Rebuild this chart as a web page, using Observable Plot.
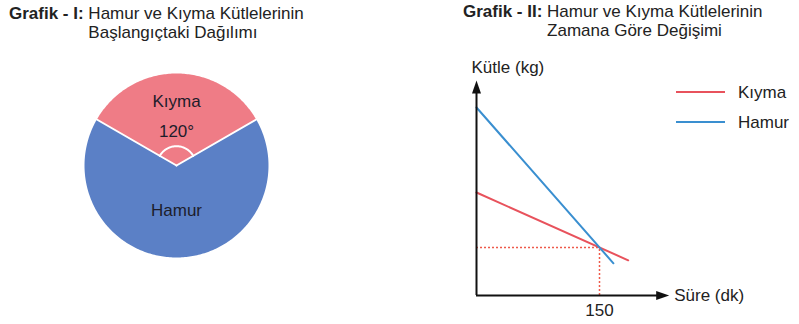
<!DOCTYPE html>
<html>
<head>
<meta charset="utf-8">
<script src="https://cdn.jsdelivr.net/npm/d3@7"></script>
<script src="https://cdn.jsdelivr.net/npm/@observablehq/plot@0.6"></script>
<style>
  body { margin: 0; background: #fff; }
  #page { position: relative; width: 799px; height: 324px; overflow: hidden;
          font-family: "Liberation Sans", Arial, Helvetica, sans-serif; font-size: 17px; color: #222; }
  .title { position: absolute; line-height: 19px; white-space: nowrap; }
  .title b { vertical-align: top; }
  .title span { display: inline-block; vertical-align: top; }
  .abs { position: absolute; }
  .swatch { position: absolute; width: 49px; height: 2px; }
  .legtext { position: absolute; line-height: 19px; }
</style>
</head>
<body>
<div id="page">
  <div class="title" style="left:9px;top:3.5px"><b>Grafik - I:</b> <span>Hamur ve Kıyma Kütlelerinin<br>Başlangıçtaki Dağılımı</span></div>
  <div class="title" style="left:463px;top:2px"><b>Grafik - II:</b> <span>Hamur ve Kıyma Kütlelerinin<br>Zamana Göre Değişimi</span></div>
  <div id="pie" class="abs" style="left:76px;top:65px"></div>
  <div id="lines" class="abs" style="left:440px;top:40px"></div>
  <div id="legend"></div>
</div>
<script>
// Grafik I: starting split of the two masses, in degrees of the circle
const pieNames = ["Kıyma", "Hamur"];
const pieDegrees = [120, 240];
const pieColors = ["#ef7c86", "#5b80c6"];

// Grafik II: mass (kg) against time (dk) for each ingredient
const kiymaTime = [0, 185];
const kiymaMass = [5.15, 1.76];
const hamurTime = [0, 167];
const hamurMass = [9.4, 1.61];
const lineNames = ["Kıyma", "Hamur"];
const lineColors = ["#e8525c", "#3a8fd0"];

// point where both masses become equal
const crossTime = 150;
const crossMass = 2.4;
const xTicks = [150];

const xLabel = "Süre (dk)";
const yLabel = "Kütle (kg)";

const font = '"Liberation Sans", Arial, Helvetica, sans-serif';
const ink = "#1d1d2b";

// ---------- pie ----------
const arcs = d3.pie().sort(null).startAngle(-Math.PI / 3).endAngle(2 * Math.PI - Math.PI / 3)(pieDegrees);
const polar = (a, r) => ({x: r * Math.sin(a), y: r * Math.cos(a)});
const sweep = (a0, a1, r, steps) => d3.range(steps + 1).map(i => polar(a0 + (a1 - a0) * i / steps, r));

const slicePts = arcs.flatMap((a, i) => {
  const steps = Math.max(8, Math.round((a.endAngle - a.startAngle) * 60));
  return [{x: 0, y: 0}, ...sweep(a.startAngle, a.endAngle, 1, steps), {x: 0, y: 0}]
    .map(p => ({...p, name: pieNames[i]}));
});
const labelRadius = {"Kıyma": 0.69, "Hamur": 0.49};
const sliceLabels = arcs.map((a, i) => {
  const mid = (a.startAngle + a.endAngle) / 2;
  return {...polar(mid, labelRadius[pieNames[i]]), text: pieNames[i]};
});
const kArc = arcs[0];
const kMid = (kArc.startAngle + kArc.endAngle) / 2;
const angleLabel = [{...polar(kMid, 0.37), text: pieDegrees[0] + "°"}];
const anglePts = sweep(kArc.startAngle, kArc.endAngle, 0.21, 40);
const dividers = arcs.flatMap((a, i) => [{x: 0, y: 0, k: i}, {...polar(a.startAngle, 1), k: i}]);

const pieExtent = 1.087;
const pie = Plot.plot({
  width: 200, height: 200, margin: 0,
  x: {domain: [-pieExtent, pieExtent], axis: null},
  y: {domain: [-pieExtent, pieExtent], axis: null},
  color: {domain: pieNames, range: pieColors},
  style: {fontFamily: font, fontSize: "17px", background: "transparent"},
  marks: [
    Plot.line(slicePts, {x: "x", y: "y", z: "name", fill: "name", stroke: "none"}),
    Plot.line(dividers, {x: "x", y: "y", z: "k", stroke: "white", strokeWidth: 2}),
    Plot.line(anglePts, {x: "x", y: "y", stroke: "white", strokeWidth: 2}),
    Plot.text(sliceLabels, {x: "x", y: "y", text: "text", fill: ink}),
    Plot.text(angleLabel, {x: "x", y: "y", text: "text", fill: ink})
  ]
});
document.getElementById("pie").append(pie);

// ---------- line chart ----------
const xMax = 235, yMax = 10.75;
const kiyma = kiymaTime.map((t, i) => ({t, m: kiymaMass[i], name: lineNames[0]}));
const hamur = hamurTime.map((t, i) => ({t, m: hamurMass[i], name: lineNames[1]}));

const arrowUp = {draw(c) { c.moveTo(0, 0); c.lineTo(4.5, 13); c.lineTo(-4.5, 13); c.closePath(); }};
const arrowRight = {draw(c) { c.moveTo(0, 0); c.lineTo(-13, 4.5); c.lineTo(-13, -4.5); c.closePath(); }};
const dotted = "#ee5a4a";

const chart = Plot.plot({
  width: 359, height: 284,
  marginLeft: 36, marginRight: 130.3, marginTop: 40, marginBottom: 29,
  x: {domain: [0, xMax], ticks: xTicks, tickSize: 0, tickPadding: 8, tickFormat: d => String(d), label: null},
  y: {domain: [0, yMax], axis: null},
  color: {domain: lineNames, range: lineColors},
  style: {fontFamily: font, fontSize: "17px", color: "#222", background: "transparent", overflow: "visible"},
  marks: [
    Plot.ruleY([crossMass], {x1: 0, x2: crossTime, stroke: dotted, strokeWidth: 1.5, strokeDasharray: "2,2"}),
    Plot.ruleX([crossTime], {y1: 0, y2: crossMass, stroke: dotted, strokeWidth: 1.5, strokeDasharray: "2,2"}),
    Plot.line(kiyma, {x: "t", y: "m", stroke: "name", strokeWidth: 2}),
    Plot.line(hamur, {x: "t", y: "m", stroke: "name", strokeWidth: 2}),
    Plot.ruleX([0], {y1: 0, y2: yMax - 0.3, stroke: "#111", strokeWidth: 2}),
    Plot.ruleY([0], {x1: 0, x2: xMax - 6, stroke: "#111", strokeWidth: 2}),
    Plot.dot([0], {x: 0, y: yMax, symbol: arrowUp, fill: "#111", stroke: "none"}),
    Plot.dot([0], {x: xMax, y: 0, symbol: arrowRight, fill: "#111", stroke: "none"}),
    Plot.text([yLabel], {x: 0, y: yMax, text: d => d, textAnchor: "start", dx: -5, dy: -13, fill: "#222"}),
    Plot.text([xLabel], {x: xMax, y: 0, text: d => d, textAnchor: "start", dx: 5, fill: "#222"})
  ]
});
document.getElementById("lines").append(chart);

// ---------- legend ----------
const legend = document.getElementById("legend");
const legTop = [92, 122];
lineNames.forEach((name, i) => {
  const sw = document.createElement("div");
  sw.className = "swatch";
  sw.style.left = "676px";
  sw.style.top = (legTop[i] - 1) + "px";
  sw.style.background = lineColors[i];
  const tx = document.createElement("div");
  tx.className = "legtext";
  tx.style.left = "738px";
  tx.style.top = (legTop[i] - 9.5) + "px";
  tx.textContent = name;
  legend.append(sw, tx);
});
</script>
</body>
</html>
